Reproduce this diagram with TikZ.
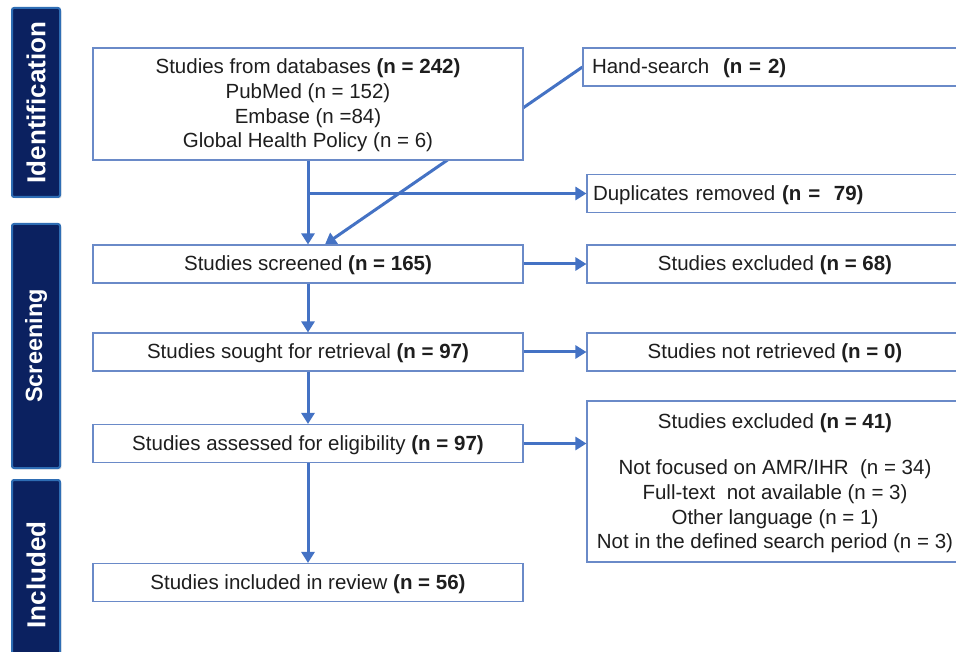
\documentclass[tikz,border=0pt]{standalone}
\usepackage{fontspec}
\setmainfont{Liberation Sans}
\usetikzlibrary{arrows.meta,backgrounds,shadows}
\definecolor{flowblue}{HTML}{4472C4}
\definecolor{boxline}{HTML}{6A8AC8}
\definecolor{phasenavy}{HTML}{0B2160}
\definecolor{phaseedge}{HTML}{2E6DB4}
\definecolor{boxtext}{HTML}{1E1E1E}

\begin{document}
\begin{tikzpicture}[x=1pt,y=-1pt,
    box/.style={rectangle, draw=boxline, line width=1.1pt, fill=white, inner sep=0pt, text=boxtext, align=center, font=\fontsize{20.5}{24.7}\selectfont, text depth=1pt},
    leftbox/.style={box, minimum width=430pt, minimum height=38pt},
    rightbox/.style={box, minimum width=376pt, minimum height=38pt},
    phase/.style={rectangle, fill=phasenavy, draw=phaseedge, line width=2pt, rounded corners=2pt, inner sep=0pt, minimum height=48pt, rotate=90, text=white, font=\bfseries\fontsize{26}{30}\selectfont, drop shadow={opacity=0.2, shadow xshift=1.5pt, shadow yshift=-1.5pt}},
    flow/.style={draw=flowblue, line width=3pt, -{Triangle[width=13pt,length=11pt]}}]
    \useasboundingbox (0,0) rectangle (956,652);
    \clip (0,0) rectangle (956,652);
    %\draw[very thin,color=gray] (0,0) grid[step=50] (956,652);

    % phases on the left
    \node[phase, minimum width=189pt] (ident) at (36,102.5) {Identification};
    \node[phase, minimum width=244pt, font=\bfseries\fontsize{23.5}{28}\selectfont] (screen) at (36,346) {Screening};
    \node[phase, minimum width=190pt] (incl-phase) at (36,575) {Included};

    % boxes
    \node[leftbox, minimum height=112pt] (db) at (308,104) {Studies from databases \textbf{(n = 242)}\\PubMed (n = 152)\\Embase (n =84)\\Global Health  Policy (n = 6)};
    \node[rightbox, minimum width=0pt, text width=362pt, inner xsep=9pt, align=left] (hand) at (773,67) {Hand-search \ \textbf{(n = 2)}};
    \node[rightbox, minimum width=0pt, text width=364pt, inner xsep=6pt, align=left] (dup) at (775,193.5) {Duplicates removed \textbf{(n = \ 79)}};
    \node[leftbox] (scr) at (308,264) {Studies screened \textbf{(n = 165)}};
    \node[rightbox] (ex1) at (775,264) {Studies excluded \textbf{(n = 68)}};
    \node[leftbox] (sought) at (308,352) {Studies sought for retrieval \textbf{(n = 97)}};
    \node[rightbox] (notret) at (775,352) {Studies not retrieved \textbf{(n = 0)}};
    \node[leftbox] (assess) at (308,443.5) {Studies assessed for eligibility \textbf{(n = 97)}};
    \node[rightbox, minimum height=161pt] (ex2) at (775,481.5) {Studies excluded \textbf{(n = 41)}\\[22pt]Not focused on AMR/IHR \ (n = 34)\\Full-text \ not available (n = 3)\\Other language (n = 1)\\Not in the defined search period (n = 3)};
    \node[leftbox] (incl) at (308,582.5) {Studies included in review \textbf{(n = 56)}};

    % arrows
    \draw[flow] (db.south) -- (scr.north);
    \draw[flow] (db.south |- dup.west) -- (dup.west);
    \begin{scope}[on background layer]
    \fill[white] (0,0) rectangle (956,652);
    \draw[flow] (hand.west) -- ([xshift=17pt]scr.north);
    \end{scope}
    \draw[flow] (scr.south) -- (sought.north);
    \draw[flow] (sought.south) -- (assess.north);
    \draw[flow] (assess.south) -- (incl.north);
    \draw[flow] (scr.east) -- (ex1.west);
    \draw[flow] (sought.east) -- (notret.west);
    \draw[flow] (assess.east) -- (assess.east -| ex2.west);
    %\draw[flow] (assess.east) -- (ex2.west);
\end{tikzpicture}
\end{document}
